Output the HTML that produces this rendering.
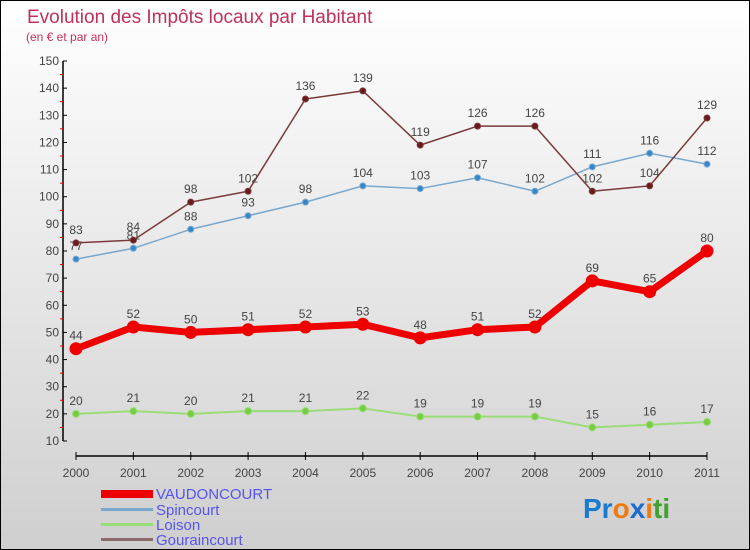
<!DOCTYPE html>
<html><head><meta charset="utf-8"><style>
body{margin:0;}
#c{width:748px;height:548px;border:1px solid #000;background:linear-gradient(#fff,#cfcfcf);position:relative;font-family:"Liberation Sans",sans-serif;overflow:hidden}
svg{position:absolute;left:0;top:0}
</style></head><body>
<div id="c">
<svg id="s" width="748" height="548">
<text x="26" y="22" font-size="19" fill="#c0305a">Evolution des Impôts locaux par Habitant</text>
<text x="25" y="40" font-size="12" fill="#c0305a">(en € et par an)</text>
<g id="axes"></g><g id="series"></g>
<g>
<rect x="100" y="489" width="52" height="8" fill="#e00"/>
<text x="155" y="498" font-size="15" fill="#5555ee">VAUDONCOURT</text>
<rect x="100" y="507" width="52" height="3" fill="#7aa7cc"/>
<text x="155" y="514" font-size="15" fill="#5555ee">Spincourt</text>
<rect x="100" y="522" width="52" height="3" fill="#99dd77"/>
<text x="155" y="529" font-size="15" fill="#5555ee">Loison</text>
<rect x="100" y="537" width="52" height="3" fill="#8a6a6a"/>
<text x="155" y="544" font-size="15" fill="#5555ee">Gouraincourt</text>
</g>
<text x="582" y="517" font-size="28" font-weight="bold"><tspan fill="#1a7ad0">Pr</tspan><tspan fill="#f07a10">o</tspan><tspan fill="#1a6ad0">x</tspan><tspan fill="#f07a10">i</tspan><tspan fill="#40a030">ti</tspan></text>
</svg></div>
<script>
const years=[2000,2001,2002,2003,2004,2005,2006,2007,2008,2009,2010,2011];
const vaudoncourt=[44,52,50,51,52,53,48,51,52,69,65,80];
const spincourt=[77,81,88,93,98,104,103,107,102,111,116,112];
const loison=[20,21,20,21,21,22,19,19,19,15,16,17];
const gouraincourt=[83,84,98,102,136,139,119,126,126,102,104,129];
const yTicks=[10,20,30,40,50,60,70,80,90,100,110,120,130,140,150];
const NS="http://www.w3.org/2000/svg";
const X=i=>75+i*(706-75)/(years.length-1);
const Y=v=>440-(v-10)*380/140;
function mk(t,a,p){const e=document.createElementNS(NS,t);for(const k in a)e.setAttribute(k,a[k]);p.appendChild(e);return e;}
const ax=document.getElementById('axes');
const yl=mk('line',{x1:62,y1:Y(150),x2:62,y2:Y(10),stroke:'#000','stroke-width':1.5},ax);


yTicks.forEach(v=>{
 mk('line',{x1:62,y1:Y(v),x2:66,y2:Y(v),stroke:'#000'},ax);
 if(v<150)mk('line',{x1:59,y1:Y(v+5),x2:62,y2:Y(v+5),stroke:'#e00'},ax);
 const t=mk('text',{x:58,y:Y(v)+4,'font-size':12,fill:'#444','text-anchor':'end'},ax);t.textContent=v;
 
 
});
const xl=mk('line',{x1:75,y1:455,x2:706,y2:455,stroke:'#000','stroke-width':1.5},ax);


years.forEach((y,i)=>{
 mk('line',{x1:X(i),y1:451,x2:X(i),y2:459,stroke:'#000'},ax);
 const t=mk('text',{x:X(i),y:476,'font-size':12,fill:'#444','text-anchor':'middle'},ax);t.textContent=y;
 
 
});
const sg=document.getElementById('series');
function draw(name,data,color,dot,w,r,fs){
 const g=mk('g',{},sg);
 
 
 mk('polyline',{points:data.map((v,i)=>X(i)+','+Y(v)).join(' '),fill:'none',stroke:color,'stroke-width':w,'stroke-linejoin':'round'},g);
 data.forEach((v,i)=>{
  const c=mk('circle',{cx:X(i),cy:Y(v),r:r,fill:dot,stroke:color,'stroke-width':1},g);
  
  
  const t=mk('text',{x:X(i),y:Y(v)-9,'font-size':fs,fill:'#444','text-anchor':'middle'},g);t.textContent=v;
  
  
 });
}
draw('loison',loison,'#99dd77','#77cc44',2,3.5,12);
draw('spincourt',spincourt,'#7aa7cc','#3388cc',1.5,3,12);
draw('gouraincourt',gouraincourt,'#7a3a3a','#6a1a1a',1.5,3,12);
draw('vaudoncourt',vaudoncourt,'#e00','#e00',7,6,12);
</script>
</body></html>
